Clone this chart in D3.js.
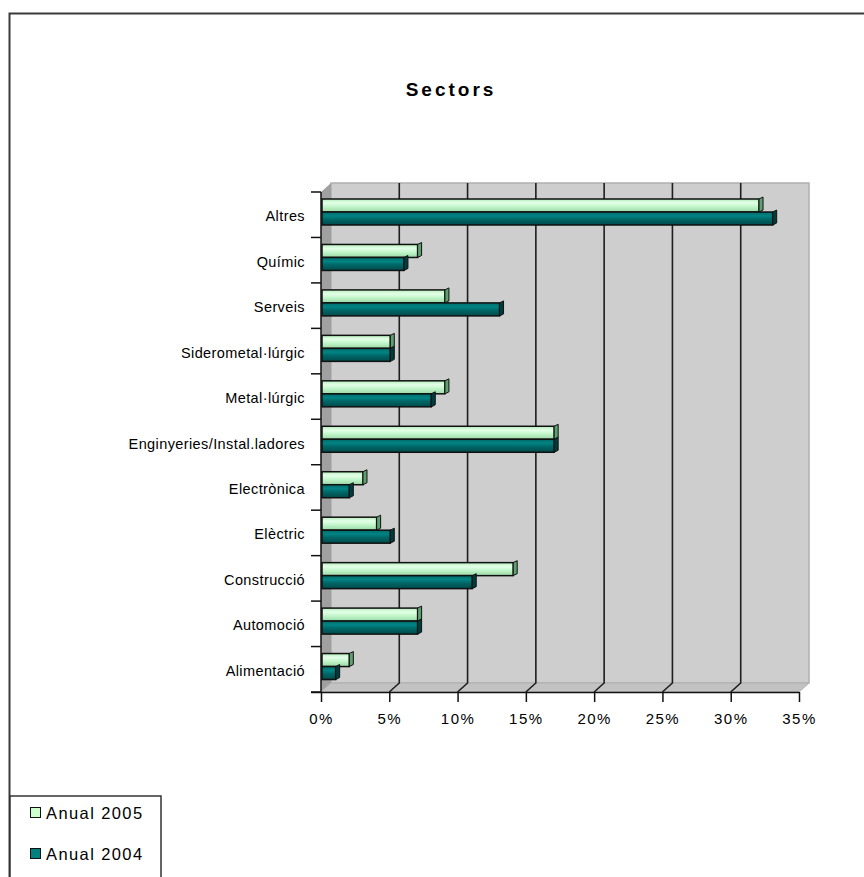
<!DOCTYPE html>
<html><head><meta charset="utf-8">
<script src="https://cdn.jsdelivr.net/npm/d3@7"></script>
<style>body{margin:0;background:#fff}svg{display:block}text{font-family:"Liberation Sans",Arial,sans-serif;fill:#000}</style>
</head><body><div id="chart"></div>
<script>
const categories = ["Altres","Químic","Serveis","Siderometal·lúrgic","Metal·lúrgic","Enginyeries/Instal.ladores","Electrònica","Elèctric","Construcció","Automoció","Alimentació"];
const series = ["Anual 2005","Anual 2004"];
const values2005 = [0.32,0.07,0.09,0.05,0.09,0.17,0.03,0.04,0.14,0.07,0.02];
const values2004 = [0.33,0.06,0.13,0.05,0.08,0.17,0.02,0.05,0.11,0.07,0.01];
const xTicks = [0,0.05,0.10,0.15,0.20,0.25,0.30,0.35];
const title = "Sectors";

const W=864,H=877;
const svg=d3.select("#chart").append("svg").attr("width",W).attr("height",H);
const defs=svg.append("defs");
const g1=defs.append("linearGradient").attr("id","gLight").attr("x1",0).attr("y1",0).attr("x2",0).attr("y2",1);
[[0,"#b4eebc"],[0.3,"#e4ffe8"],[0.55,"#c6f8ce"],[1,"#9ad8a6"]].forEach(s=>g1.append("stop").attr("offset",s[0]).attr("stop-color",s[1]));
const g2=defs.append("linearGradient").attr("id","gDark").attr("x1",0).attr("y1",0).attr("x2",0).attr("y2",1);
[[0,"#006a6a"],[0.3,"#008484"],[0.55,"#006868"],[1,"#004a4a"]].forEach(s=>g2.append("stop").attr("offset",s[0]).attr("stop-color",s[1]));

// frame
svg.append("path").attr("d","M9.5,877V13.5H864").attr("fill","none").attr("stroke","#3a3a3a").attr("stroke-width",2);

svg.append("text").attr("x",451).attr("y",96).attr("text-anchor","middle")
  .attr("font-size",19).attr("font-weight","bold").attr("letter-spacing",3).text(title);

const x0=321,x1=799,yTop=192,yBot=692,dx=10,dy=-9;
const x=d3.scaleLinear().domain([0,0.35]).range([x0,x1]);
const y=d3.scaleBand().domain(categories).range([yTop,yBot]).paddingInner(0).paddingOuter(0);
const sub=d3.scaleBand().domain(series).range([7,33]);

// walls
svg.append("rect").attr("x",x(0)+dx).attr("y",yTop+dy).attr("width",x(0.35)-x(0)).attr("height",yBot-yTop)
  .attr("fill","#cecece").attr("stroke","#b0b0b0").attr("stroke-width",1.5);
svg.append("path").attr("d",`M${x(0)},${yTop}L${x(0)+dx},${yTop+dy}V${yBot+dy}L${x(0)},${yBot}Z`).attr("fill","#a0a0a0");
svg.append("path").attr("d",`M${x(0)},${yBot}L${x(0)+dx},${yBot+dy}H${x(0.35)+dx}L${x(0.35)},${yBot}Z`).attr("fill","#c2c2c2").attr("stroke","#b0b0b0");

// grid
const grid=svg.append("g").attr("stroke","#1e1e1e").attr("stroke-width",1.6).attr("fill","none");
xTicks.filter(t=>t>0&&t<0.35).forEach(t=>{
  grid.append("path").attr("d",`M${x(t)+dx},${yTop+dy}V${yBot+dy}L${x(t)},${yBot}`);
});

// bars
const rows=svg.append("g");
categories.forEach((c,i)=>{
  const vals=[values2005[i],values2004[i]];
  series.forEach((s,j)=>{
    const v=vals[j];
    const top=y(c)+sub(s), h=sub.bandwidth(), xe=x(v)+1;
    rows.append("rect").attr("x",x(0)+1).attr("y",top).attr("width",xe-x(0)-1).attr("height",h)
      .attr("fill",j===0?"url(#gLight)":"url(#gDark)").attr("stroke","#111").attr("stroke-width",1.5);
    rows.append("path").attr("d",`M${xe},${top}L${xe+4},${top-2}V${top+h-2}L${xe},${top+h}Z`)
      .attr("fill",j===0?"#5fa070":"#003c3c").attr("stroke","#111").attr("stroke-width",1);
  });
});

// axes
const xAxis=d3.axisBottom(x).tickValues(xTicks).tickSize(10).tickFormat(d3.format(".0%"));
const gx=svg.append("g").attr("transform",`translate(0,${yBot})`).call(xAxis);
gx.select(".domain").attr("stroke","#111").attr("stroke-width",1.5).attr("d",`M${x0-10},0.5H${x1}`);
gx.selectAll(".tick line").attr("stroke","#111").attr("stroke-width",1.5);
gx.selectAll(".tick text").attr("font-size",15).attr("letter-spacing",1.5).attr("dy","1.05em").attr("y",16);

const yAxis=d3.axisLeft(y).tickSize(0).tickPadding(16);
const gy=svg.append("g").attr("transform",`translate(${x0},0)`).call(yAxis);
gy.select(".domain").attr("stroke","#111").attr("stroke-width",1.5).attr("d",`M0,${yTop}V${yBot}`);
gy.selectAll(".tick text").attr("font-size",14.5).attr("letter-spacing",0.4).attr("dy","0.45em");
const bounds=categories.map(c=>y(c)).concat([yBot]);
gy.selectAll(".bt").data(bounds).join("line").attr("x1",-10).attr("x2",0).attr("y1",d=>d).attr("y2",d=>d)
  .attr("stroke","#111").attr("stroke-width",1.5);
svg.selectAll("g").attr("font-family",null);

// legend
const lg=svg.append("g");
lg.append("rect").attr("x",10).attr("y",796).attr("width",151).attr("height",90).attr("fill","#fff").attr("stroke","#333").attr("stroke-width",1.5);
series.forEach((s,i)=>{
  const cy=813+i*41;
  lg.append("rect").attr("x",30.5).attr("y",cy-5.5).attr("width",10).attr("height",10)
    .attr("fill",i===0?"#ccffcc":"#008080").attr("stroke","#111");
  lg.append("text").attr("x",46).attr("y",cy+6).attr("font-size",16.5).attr("letter-spacing",1.4).text(s);
});
</script></body></html>
